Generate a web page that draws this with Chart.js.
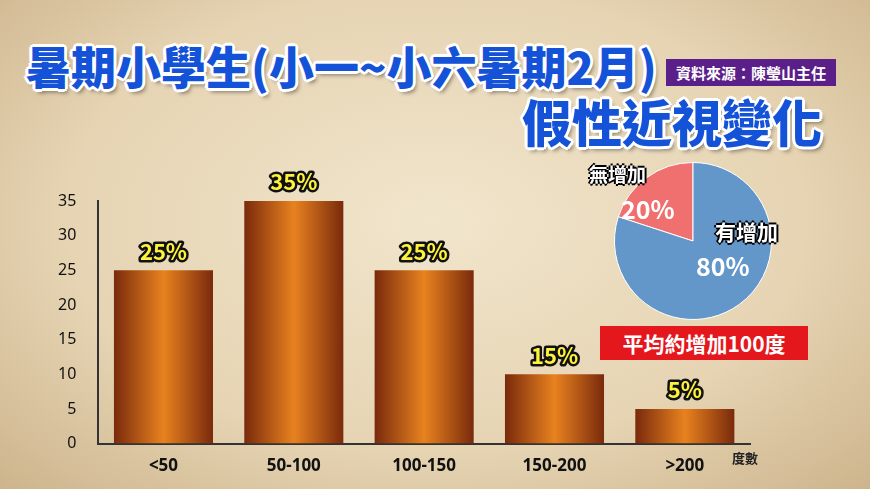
<!DOCTYPE html>
<html><head><meta charset="utf-8">
<script src="https://cdn.jsdelivr.net/npm/chart.js@4"></script>
<style>
body{margin:0;}
#wrap{position:relative;width:870px;height:489px;overflow:hidden;
 background:radial-gradient(ellipse at 50% 45%,#f1e5cc 0%,#e6d4b3 60%,#cdb48c 100%);
 font-family:"Noto Sans CJK TC",sans-serif;}
.t{position:absolute;font-weight:900;color:#1453d8;white-space:nowrap;
 text-shadow:-3px 0 #fff,3px 0 #fff,0 -3px #fff,0 3px #fff,-2px -2px #fff,2px 2px #fff,-2px 2px #fff,2px -2px #fff,3px 4px 4px rgba(0,0,0,.45);}
.lab{position:absolute;font-weight:700;white-space:nowrap;font-family:"Noto Sans CJK TC",sans-serif;}
#bar{position:absolute;left:0;top:150px;}
#pie{position:absolute;left:600px;top:148px;}
</style></head><body>
<div id="wrap">
 <div class="t" style="left:26px;top:38px;font-size:45px;line-height:56px;">暑期小學生(小一~小六暑期2月)</div>
 <div class="t" style="left:522px;top:92px;font-size:50px;line-height:56px;">假性近視變化</div>
 <div class="lab" style="left:666px;top:59px;width:170px;height:27px;background:#5b1f8a;color:#fff;font-size:15px;line-height:27px;text-align:center;">資料來源：陳瑩山主任</div>
 <canvas id="bar" width="870" height="330"></canvas>
 <canvas id="pie" width="186" height="186"></canvas>
 <div class="lab" style="left:589px;top:160px;font-size:19px;color:#fff;text-shadow:-2px 0 #000,2px 0 #000,0 -2px #000,0 2px #000;">無增加</div>
 <div class="lab" style="left:621px;top:190px;font-size:25px;color:#fff;">20%</div>
 <div class="lab" style="left:715px;top:216px;font-size:21px;color:#fff;text-shadow:-2px 0 #000,2px 0 #000,0 -2px #000,0 2px #000;">有增加</div>
 <div class="lab" style="left:696px;top:247px;font-size:25px;color:#fff;">80%</div>
 <div class="lab" style="left:600px;top:326px;width:208px;height:34px;background:#e3171c;color:#fff;font-size:21px;line-height:34px;text-align:center;">平均約增加100度</div>
 <div class="lab" style="left:732px;top:448px;font-size:13px;color:#222;">度數</div>
</div>
<script>
const categories = ["<50", "50-100", "100-150", "150-200", ">200"];
const barValues = [25, 35, 25, 10, 5];
const barLabels = ["25%", "35%", "25%", "15%", "5%"];
const pieLabels = ["無增加", "有增加"];
const pieValues = [20, 80];
const barFrac = 0.76;

// horizontal dark-orange-dark gradient per bar, built once the x scale is known
const barShade = {
  id: "barShade",
  afterLayout(chart) {
    const x = chart.scales.x, c = chart.ctx;
    const w = (x.width / categories.length) * barFrac;
    chart.data.datasets[0].backgroundColor = categories.map((_, i) => {
      const cx = x.getPixelForValue(i);
      const g = c.createLinearGradient(cx - w / 2, 0, cx + w / 2, 0);
      g.addColorStop(0, "#7a2a0c");
      g.addColorStop(0.5, "#e8821f");
      g.addColorStop(1, "#7a2a0c");
      return g;
    });
  }
};

const topLabels = {
  id: "topLabels",
  afterDatasetsDraw(chart) {
    const c = chart.ctx;
    chart.getDatasetMeta(0).data.forEach((bar, i) => {
      c.save();
      c.font = "bold 22px 'Noto Sans CJK TC'";
      c.textAlign = "center";
      c.textBaseline = "bottom";
      c.lineWidth = 5;
      c.strokeStyle = "#111";
      c.lineJoin = "round";
      c.strokeText(barLabels[i], bar.x, bar.y - 8);
      c.fillStyle = "#fff23a";
      c.fillText(barLabels[i], bar.x, bar.y - 8);
      c.restore();
    });
  }
};

new Chart(document.getElementById("bar"), {
  type: "bar",
  data: { labels: categories, datasets: [{ data: barValues, backgroundColor: "#c0601a", categoryPercentage: barFrac, barPercentage: 1 }] },
  options: {
    responsive: false, animation: false,
    layout: { padding: { left: 44, right: 120, top: 51, bottom: 0 } },
    plugins: { legend: { display: false }, tooltip: { enabled: false } },
    scales: {
      x: { grid: { display: false }, border: { color: "#333", width: 2 },
        ticks: { color: "#111", padding: 4, font: { size: 17, weight: "bold", family: "Noto Sans" } } },
      y: { min: 0, max: 35, ticks: { stepSize: 5, color: "#111", padding: 14, font: { size: 16, family: "Noto Sans" } },
        grid: { display: false }, border: { color: "#333", width: 2 } }
    }
  },
  plugins: [barShade, topLabels]
});

new Chart(document.getElementById("pie"), {
  type: "pie",
  data: { labels: pieLabels, datasets: [{ data: pieValues, backgroundColor: ["#f07070", "#6497c9"], borderColor: "#fff", borderWidth: 1 }] },
  options: {
    responsive: false, animation: false, rotation: -72,
    layout: { padding: 14 },
    plugins: { legend: { display: false }, tooltip: { enabled: false } }
  }
});
</script>
</body></html>
